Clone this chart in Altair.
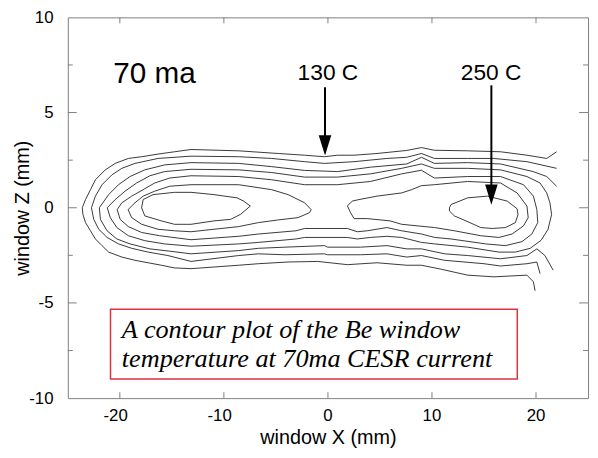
import altair as alt
import pandas as pd

# ---------------- contour lines (data units: window X / window Z in mm) ----------------
L1_X = [21.98, 21.03, 19.13, 16.59, 13.43, 10.23, 8.99, 7.57, 4.72, 2.51, 0.92, -0.34, -2.24, -4.78, -8.58,
        -13.16, -14.75, -16.33, -17.91, -19.18, -20.45, -21.40, -22.35, -22.82, -23.30, -23.61, -23.55, -23.30,
        -22.82, -22.35, -21.71, -21.08, -19.81, -18.55, -17.28, -16.01, -14.75, -13.16, -8.58, -6.68, -3.83,
        -0.98, 1.87, 4.72, 7.57, 8.99, 10.89, 13.43, 15.95, 19.13, 19.75, 19.91]
L1_Y = [2.94, 2.59, 2.76, 2.94, 2.99, 3.02, 3.16, 3.01, 2.85, 2.76, 2.76, 2.68, 2.76, 2.85, 2.99,
        3.06, 2.94, 2.82, 2.68, 2.59, 2.33, 1.99, 1.47, 0.95, 0.43, 0.0, -0.35, -0.78,
        -1.21, -1.64, -1.99, -2.33, -2.59, -2.76, -2.89, -3.02, -3.16, -3.20, -3.02, -2.94, -2.85,
        -2.82, -2.99, -2.89, -3.02, -3.02, -3.23, -3.54, -3.63, -3.54, -3.89, -4.36]

L2_X = [21.98, 19.13, 15.93, 13.43, 10.23, 8.99, 7.57, 5.67, 2.51, -0.34, -2.24, -5.41, -8.58, -13.16,
        -16.33, -18.55, -19.81, -20.76, -21.71, -22.35, -22.73, -22.51, -22.03, -21.23, -20.13, -18.86,
        -17.28, -15.38, -13.16, -8.58, -6.68, -4.14, -0.34, -0.03, 3.13, 5.67, 7.57, 8.99, 11.21, 15.00,
        16.59, 19.13, 20.08, 20.39]
L2_Y = [2.07, 2.42, 2.59, 2.59, 2.59, 2.85, 2.65, 2.59, 2.42, 2.33, 2.42, 2.59, 2.68, 2.71,
        2.59, 2.33, 2.07, 1.73, 1.21, 0.61, 0.0, -0.61, -1.13, -1.56, -1.90, -2.13,
        -2.33, -2.51, -2.82, -2.51, -2.42, -2.47, -2.42, -2.47, -2.47, -2.42, -2.59, -2.51, -2.76, -2.94,
        -3.06, -2.94, -2.85, -3.46]

L3_X = [21.98, 21.03, 19.72, 16.59, 13.43, 10.23, 8.99, 7.57, 4.08, 0.92, -2.24, -5.41, -8.58, -13.16,
        -15.70, -17.60, -19.02, -20.13, -21.08, -21.97, -21.87, -21.23, -20.29, -19.02, -17.12, -15.22,
        -13.16, -8.58, -6.68, -4.14, -0.34, -0.03, 3.13, 5.67, 7.57, 8.99, 11.21, 13.43, 16.59, 19.13,
        20.08, 20.86, 21.65]
L3_Y = [1.13, 1.64, 1.90, 2.30, 2.37, 2.33, 2.65, 2.30, 2.13, 1.90, 1.96, 2.16, 2.33, 2.37,
        2.25, 1.99, 1.64, 1.21, 0.69, 0.0, -0.61, -1.21, -1.64, -1.90, -2.16, -2.28,
        -2.42, -2.25, -2.13, -2.07, -1.99, -2.07, -2.07, -1.99, -2.16, -2.16, -2.42, -2.51, -2.68, -2.51,
        -2.16, -2.51, -3.28]

L4_X = [7.09, 8.99, 10.23, 13.43, 16.59, 19.13, 20.39, 21.03, 21.34, 21.50, 21.15, 20.49, 19.44, 18.02,
        16.43, 13.43, 10.26, 8.99, 7.09, 5.67, 4.08, 2.82, 1.87, -2.24, -3.07, -6.68, -8.58, -13.16,
        -15.70, -17.60, -19.18, -20.29, -20.92, -21.21, -20.45, -19.50, -18.39, -17.12, -15.70, -13.16,
        -8.58, -5.41, -2.24, 0.92, 4.08, 7.09]
L4_Y = [2.07, 2.30, 2.07, 2.07, 1.99, 1.64, 1.30, 0.78, 0.26, -0.36, -1.14, -1.71, -2.13, -2.33,
        -2.33, -2.07, -1.90, -1.82, -1.56, -1.50, -1.56, -1.64, -1.56, -1.56, -1.64, -1.82, -1.90, -2.02,
        -1.90, -1.73, -1.47, -1.04, -0.52, 0.0, 0.43, 0.87, 1.30, 1.68, 1.90, 2.02,
        1.99, 1.85, 1.61, 1.61, 1.78, 2.07]

L5_X = [7.09, 8.99, 10.23, 13.43, 16.59, 18.80, 19.75, 20.08, 20.17, 19.60, 18.65, 17.07, 15.17, 11.84,
        10.26, 8.99, 7.09, 5.67, 3.77, 2.82, 1.87, -2.24, -3.07, -6.68, -8.58, -13.16, -16.17, -17.91,
        -19.18, -19.97, -20.26, -19.81, -18.86, -17.76, -16.65, -15.22, -13.16, -8.58, -5.41, -2.24,
        0.92, 4.08, 7.09]
L5_Y = [1.78, 1.97, 1.56, 1.64, 1.64, 1.21, 0.61, -0.09, -0.78, -1.38, -1.78, -1.99, -1.90, -1.64,
        -1.56, -1.38, -1.21, -1.04, -1.21, -1.26, -1.09, -1.09, -1.21, -1.38, -1.50, -1.68, -1.47, -1.30,
        -0.99, -0.61, -0.10, 0.26, 0.61, 0.95, 1.30, 1.56, 1.68, 1.64, 1.47, 1.21,
        1.21, 1.38, 1.78]

LOOP_L_X = [-19.21, -18.55, -17.76, -16.65, -15.22, -13.16, -8.58, -5.41, -3.83, -2.24, -1.61, -1.77,
            -2.88, -4.78, -6.68, -8.58, -13.16, -14.75, -16.33, -17.91, -18.86, -19.21]
LOOP_L_Y = [-0.10, 0.26, 0.61, 0.87, 1.13, 1.21, 1.21, 0.95, 0.69, 0.26, -0.10, -0.26,
            -0.52, -0.64, -0.78, -0.99, -1.26, -1.21, -1.13, -0.87, -0.52, -0.10]

LOOP_R_X = [1.87, 2.35, 2.98, 4.72, 7.09, 8.04, 8.99, 10.23, 13.43, 16.59, 18.18, 19.13, 19.25, 18.80,
            17.70, 16.43, 14.69, 12.16, 10.26, 7.09, 5.98, 3.77, 2.51, 2.18, 1.87]
LOOP_R_Y = [0.10, 0.35, 0.43, 0.61, 0.78, 0.95, 1.16, 1.21, 1.38, 1.30, 0.78, 0.09, -0.52, -0.95,
            -1.38, -1.56, -1.47, -1.21, -1.04, -0.87, -0.69, -0.57, -0.57, -0.26, 0.10]

ISLAND_L_X = [-17.91, -17.76, -16.81, -14.75, -13.16, -10.95, -8.74, -8.10, -7.46, -8.41, -9.36, -10.95,
              -13.16, -14.75, -16.01, -17.60, -17.91]
ISLAND_L_Y = [0.0, 0.43, 0.69, 0.81, 0.81, 0.69, 0.52, 0.35, 0.09, -0.35, -0.61, -0.69,
              -0.87, -0.87, -0.69, -0.43, 0.0]

ISLAND_R_X = [11.68, 11.84, 13.43, 15.33, 17.23, 18.18, 18.27, 18.02, 17.07, 15.80, 14.69, 13.27, 12.16,
              11.68, 11.68]
ISLAND_R_Y = [0.0, 0.17, 0.52, 0.61, 0.35, -0.05, -0.36, -0.78, -1.04, -1.09, -1.04, -0.69, -0.43,
              -0.17, 0.0]

LINES = {
    "L1": (L1_X, L1_Y), "L2": (L2_X, L2_Y), "L3": (L3_X, L3_Y), "L4": (L4_X, L4_Y),
    "L5": (L5_X, L5_Y), "loopL": (LOOP_L_X, LOOP_L_Y), "loopR": (LOOP_R_X, LOOP_R_Y),
    "islandL": (ISLAND_L_X, ISLAND_L_Y), "islandR": (ISLAND_R_X, ISLAND_R_Y),
}

# ---------------- axes / annotations ----------------
X_TICKS = [-20, -10, 0, 10, 20]
X_TICK_LABELS = ["-20", "-10", "0", "10", "20"]
Y_TICKS = [-10, -5, 0, 5, 10]
Y_MINOR = [-7.5, -2.5, 2.5, 7.5]

LABEL_BIG = ["70 ma"]
LABEL_BIG_X = [-20.63]
LABEL_BIG_Y = [6.54]

ARROW_TEXT = ["130 C", "250 C"]
ARROW_TEXT_X = [0.0, 15.69]
ARROW_TEXT_Y = [6.69, 6.69]
ARROW_X = [-0.28, 15.71]
ARROW_START = [6.33, 6.43]
ARROW_TIP = [2.76, 0.17]

BOX_X = [-20.9, 18.2]
BOX_Y = [-5.33, -9.0]
BOX_LINES = ["A contour plot of the Be window", "temperature at 70ma CESR current"]
BOX_LINE_X = [-19.81, -19.81]
BOX_LINE_Y = [-6.86, -8.39]

# ---------------- build tables ----------------
rows = []
for name, (xs_, ys_) in LINES.items():
    for i, (a, b) in enumerate(zip(xs_, ys_)):
        rows.append({"line": name, "i": i, "x": a, "y": b})
contour_df = pd.DataFrame(rows)

W, H = 526, 385
xscale = alt.Scale(domain=[-25, 25], nice=False, zero=False)
yscale = alt.Scale(domain=[-10, 10], nice=False, zero=False)
xaxis = alt.Axis(values=X_TICKS, grid=False, ticks=False, domain=False, labels=False,
                 titleFontSize=20, titleBaseline="alphabetic", titleY=46)
yaxis = alt.Axis(values=Y_TICKS, grid=False, ticks=False, domain=False, labelPadding=15,
                 labelFontSize=17, titleFontSize=20, titleBaseline="alphabetic", titleX=-40,
                 labelFlush=False, labelExpr="'' + datum.value")
XT = "window X (mm)"
YT = "window Z (mm)"


def X(f="x"):
    return alt.X(f"{f}:Q", scale=xscale, axis=xaxis, title=XT)


def Y(f="y"):
    return alt.Y(f"{f}:Q", scale=yscale, axis=yaxis, title=YT)


contours = alt.Chart(contour_df).mark_line(color="#222222", strokeWidth=0.9, clip=True).encode(
    x=X(), y=Y(), detail="line:N", order="i:Q")

ymaj = pd.DataFrame({"y": [v for v in Y_TICKS if abs(v) < 10]})
ymin = pd.DataFrame({"y": Y_MINOR})
xt = pd.DataFrame({"x": X_TICKS})
tick_color = "#808080"
ticks = [
    alt.Chart(ymaj).mark_rule(color=tick_color).encode(y=Y(), x=alt.value(0), x2=alt.value(9)),
    alt.Chart(ymin).mark_rule(color=tick_color).encode(y=Y(), x=alt.value(0), x2=alt.value(5)),
    alt.Chart(ymaj).mark_rule(color=tick_color).encode(y=Y(), x=alt.value(W), x2=alt.value(W - 9)),
    alt.Chart(ymin).mark_rule(color=tick_color).encode(y=Y(), x=alt.value(W), x2=alt.value(W - 5)),
    alt.Chart(xt).mark_rule(color=tick_color).encode(x=X(), y=alt.value(H), y2=alt.value(H - 6)),
    alt.Chart(xt).mark_rule(color=tick_color).encode(x=X(), y=alt.value(0), y2=alt.value(6)),
]

# x tick labels: digits centred on the tick, the minus sign hanging to the left
xlab_df = pd.DataFrame({"x": X_TICKS, "t": X_TICK_LABELS})
xlab_neg = alt.Chart(xlab_df).transform_filter("datum.x < 0").mark_text(
    align="right", baseline="alphabetic", dx=8, font="Liberation Sans", fontSize=17, color="black"
).encode(x=X(), y=alt.value(H + 23), text="t:N")
xlab_pos = alt.Chart(xlab_df).transform_filter("datum.x >= 0").mark_text(
    align="center", baseline="alphabetic", font="Liberation Sans", fontSize=17, color="black"
).encode(x=X(), y=alt.value(H + 23), text="t:N")

big = alt.Chart(pd.DataFrame({"t": LABEL_BIG, "x": LABEL_BIG_X, "y": LABEL_BIG_Y})).mark_text(
    align="left", baseline="alphabetic", font="Liberation Sans", fontSize=30, color="black"
).encode(x=X(), y=Y(), text="t:N")

arrow_lbl = alt.Chart(pd.DataFrame({"t": ARROW_TEXT, "x": ARROW_TEXT_X, "y": ARROW_TEXT_Y})).mark_text(
    align="center", baseline="alphabetic", font="Liberation Sans", fontSize=23, color="black"
).encode(x=X(), y=Y(), text="t:N")

arrow_df = pd.DataFrame({"x": ARROW_X, "y": ARROW_START, "y2": ARROW_TIP})
arrow_line = alt.Chart(arrow_df).mark_rule(color="black", strokeWidth=2, y2Offset=-10).encode(
    x=X(), y=Y(), y2="y2:Q")
arrow_head = alt.Chart(arrow_df).mark_point(
    shape="M-0.62,-1L0.62,-1L0,1Z", size=420, filled=True, color="black", opacity=1, yOffset=-10
).encode(x=X(), y=Y("y2"))

box = alt.Chart(pd.DataFrame({"x": [BOX_X[0]], "x2": [BOX_X[1]], "y": [BOX_Y[0]], "y2": [BOX_Y[1]]})).mark_rect(
    fill="white", stroke="#dd3340", strokeWidth=1.5
).encode(x=X(), x2="x2:Q", y=Y(), y2="y2:Q")

box_text = alt.Chart(pd.DataFrame({"t": BOX_LINES, "x": BOX_LINE_X, "y": BOX_LINE_Y})).mark_text(
    align="left", baseline="alphabetic", font="Liberation Serif", fontStyle="italic", fontSize=26.5,
    color="black"
).encode(x=X(), y=Y(), text="t:N")

chart = alt.layer(
    contours, *ticks, xlab_neg, xlab_pos, big, arrow_lbl, arrow_line, arrow_head, box, box_text
).properties(
    width=W, height=H,
    autosize=alt.AutoSizeParams(type="none"),
    padding={"left": 60.5, "top": 7, "right": 2, "bottom": 52},
).configure_view(
    stroke="#808080", strokeWidth=1
).configure_axis(
    labelFont="Liberation Sans", titleFont="Liberation Sans", labelColor="black", titleColor="black",
    titleFontWeight="normal"
)

chart.save("out.html", embed_options={"renderer": "svg", "actions": False})
